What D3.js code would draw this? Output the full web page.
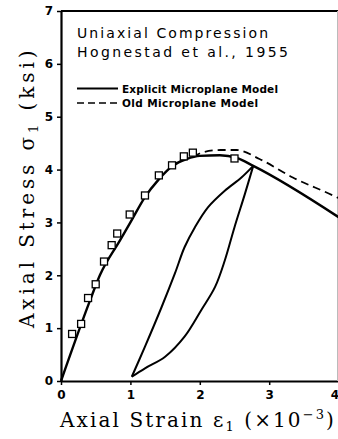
<!DOCTYPE html>
<html>
<head>
<meta charset="utf-8">
<script src="https://cdn.jsdelivr.net/npm/d3@7"></script>
<style>
body { margin: 0; background: #fff; }
svg { display: block; }
.tick text { font-family: "DejaVu Sans", sans-serif; font-weight: bold; font-size: 12px; }
.label { font-family: "DejaVu Serif", serif; font-size: 20px; }
.note { font-family: "DejaVu Sans", sans-serif; font-size: 14px; }
.legend { font-family: "DejaVu Sans", sans-serif; font-weight: bold; font-size: 10.5px; }
</style>
</head>
<body>
<div class="svg-container"></div>
<script>
// page and plot box
var pageWidth = 338,
	pageHeight = 439,
	margin = { top: 11, left: 61, bottom: 58, right: 0 };

var minX = 0, maxX = 4, minY = 0, maxY = 7;

var xTicks = [0, 1, 2, 3, 4];
var yTicks = [0, 1, 2, 3, 4, 5, 6, 7];

// test data, Hognestad et al. 1955 (strain x10^-3, stress ksi)
var testStrain = [0.16, 0.29, 0.39, 0.50, 0.62, 0.73, 0.81, 0.99, 1.21, 1.41, 1.60, 1.77, 1.90, 2.50];
var testStress = [0.89, 1.08, 1.57, 1.83, 2.26, 2.57, 2.79, 3.15, 3.51, 3.89, 4.08, 4.25, 4.32, 4.21];

// explicit microplane model, monotonic part
var explicitStrain = [0, 0.42, 0.56, 0.85, 1.0, 1.21, 1.40, 1.62, 1.81, 2.0, 2.29, 2.53, 2.77, 4.0];
var explicitStress = [0, 1.53, 2.0, 2.66, 3.0, 3.48, 3.80, 4.08, 4.20, 4.26, 4.27, 4.22, 4.07, 3.10];

// unloading branch and reloading branch of the loop
var unloadStrain = [2.77, 2.65, 2.50, 2.36, 2.22, 2.02, 1.78, 1.50, 1.21, 1.02];
var unloadStress = [4.07, 3.54, 2.91, 2.28, 1.78, 1.34, 0.84, 0.46, 0.24, 0.08];
var reloadStrain = [1.02, 1.21, 1.45, 1.64, 1.78, 1.93, 2.12, 2.36, 2.60, 2.77];
var reloadStress = [0.08, 0.65, 1.40, 2.03, 2.53, 2.91, 3.29, 3.60, 3.85, 4.07];

// old microplane model, where it leaves the explicit curve
var oldStrain = [1.90, 2.05, 2.30, 2.53, 2.86, 3.34, 3.92, 4.0];
var oldStress = [4.24, 4.33, 4.37, 4.37, 4.20, 3.85, 3.51, 3.46];

function zip(xs, ys) {
	return xs.map(function(v, i) { return { x: v, y: ys[i] }; });
}

function plot() {
	var svg = d3.select(".svg-container")
	.append("svg")
	.attr("width", pageWidth)
	.attr("height", pageHeight);

	var xScale = d3.scaleLinear().domain([minX, maxX]).range([margin.left, 338.6]);
	var yScale = d3.scaleLinear().domain([minY, maxY]).range([pageHeight - margin.bottom, margin.top]);

	drawAxes(svg, xScale, yScale);
	drawText(svg);
	drawCurves(svg, xScale, yScale);
	drawSquares(svg, xScale, yScale);
}

function drawAxes(svg, x, y) {
	var xAxis = d3.axisBottom(x).tickValues(xTicks).tickFormat(d3.format("d"))
		.tickSize(4).tickSizeOuter(0).tickPadding(3);
	var yAxis = d3.axisLeft(y).tickValues(yTicks).tickFormat(d3.format("d"))
		.tickSize(4).tickSizeOuter(0).tickPadding(4);

	var gx = svg.append("g")
	.attr("transform", "translate(0," + y(0) + ")")
	.call(xAxis);
	gx.selectAll(".tick text").attr("dy", "0.95em");
	// the last label sits at the page edge, keep it inside
	gx.selectAll(".tick text").filter(function(d) { return d === 4; })
	.attr("text-anchor", "end").attr("dx", 0);

	var gy = svg.append("g")
	.attr("transform", "translate(" + x(0) + ",0)")
	.call(yAxis);

	svg.selectAll(".domain").attr("stroke-width", 2.2);
	svg.selectAll(".tick line").attr("stroke-width", 1.5);

	// top edge of the frame
	svg.append("line")
	.attr("x1", x(0)).attr("x2", x(4))
	.attr("y1", y(7)).attr("y2", y(7))
	.attr("stroke", "#000").attr("stroke-width", 2.2);

	// right edge, faint at the border of the scan
	svg.append("line")
	.attr("x1", 337.5).attr("x2", 337.5)
	.attr("y1", y(7)).attr("y2", y(0))
	.attr("stroke", "#bbb").attr("stroke-width", 1);

	var xl = svg.append("text")
	.attr("class", "label")
	.attr("x", 60)
	.attr("y", 427)
	.style("letter-spacing", "2.1px");
	xl.append("tspan").text("Axial Strain \u03b5");
	xl.append("tspan").attr("font-size", "13px").attr("dy", 4).text("1");
	xl.append("tspan").attr("dy", -4).text(" (\u00d710");
	xl.append("tspan").attr("font-size", "13px").attr("dy", -8).text("\u22123");
	xl.append("tspan").attr("dy", 8).style("letter-spacing", "0px").text(")");

	var yl = svg.append("text")
	.attr("class", "label")
	.attr("transform", "translate(34,328) rotate(-90)")
	.style("letter-spacing", "3.9px");
	yl.append("tspan").text("Axial Stress \u03c3");
	yl.append("tspan").attr("font-size", "13px").attr("dy", 4).text("1");
	yl.append("tspan").attr("dy", -4).text(" (ksi)");
}

function drawText(svg) {
	svg.append("text").attr("class", "note").attr("x", 77).attr("y", 38)
	.attr("textLength", 191).attr("lengthAdjust", "spacing")
	.text("Uniaxial Compression");
	svg.append("text").attr("class", "note").attr("x", 77).attr("y", 57)
	.attr("textLength", 211).attr("lengthAdjust", "spacing")
	.text("Hognestad et al., 1955");

	svg.append("line")
	.attr("x1", 77).attr("x2", 118).attr("y1", 88.5).attr("y2", 88.5)
	.attr("stroke", "#000").attr("stroke-width", 2);
	svg.append("text").attr("class", "legend").attr("x", 122).attr("y", 92.5)
	.attr("textLength", 156).attr("lengthAdjust", "spacing")
	.text("Explicit Microplane Model");

	svg.append("line")
	.attr("x1", 77).attr("x2", 118).attr("y1", 103).attr("y2", 103)
	.attr("stroke", "#000").attr("stroke-width", 1.6)
	.attr("stroke-dasharray", "7,4");
	svg.append("text").attr("class", "legend").attr("x", 122).attr("y", 107)
	.attr("textLength", 136).attr("lengthAdjust", "spacing")
	.text("Old Microplane Model");
}

function drawCurves(svg, x, y) {
	var line = d3.line()
	.x(function(d) { return x(d.x); })
	.y(function(d) { return y(d.y); });

	svg.append("path")
	.datum(zip(oldStrain, oldStress))
	.attr("fill", "none")
	.attr("stroke", "#000")
	.attr("stroke-width", 1.8)
	.attr("stroke-dasharray", "8,5")
	.attr("d", line.curve(d3.curveMonotoneX));

	svg.append("path")
	.datum(zip(explicitStrain, explicitStress))
	.attr("fill", "none")
	.attr("stroke", "#000")
	.attr("stroke-width", 2.4)
	.attr("d", line.curve(d3.curveMonotoneX));

	[zip(unloadStrain, unloadStress), zip(reloadStrain, reloadStress)].forEach(function(branch) {
		svg.append("path")
		.datum(branch)
		.attr("fill", "none")
		.attr("stroke", "#000")
		.attr("stroke-width", 2)
		.attr("d", line.curve(d3.curveCatmullRom));
	});
}

function drawSquares(svg, x, y) {
	var side = 7;
	svg.selectAll(".square")
	.data(zip(testStrain, testStress))
	.enter()
	.append("rect")
	.attr("class", "square")
	.attr("x", function(d) { return x(d.x) - side / 2; })
	.attr("y", function(d) { return y(d.y) - side / 2; })
	.attr("width", side)
	.attr("height", side)
	.attr("fill", "#fff")
	.attr("stroke", "#000")
	.attr("stroke-width", 1.3);
}

plot();
</script>
</body>
</html>
